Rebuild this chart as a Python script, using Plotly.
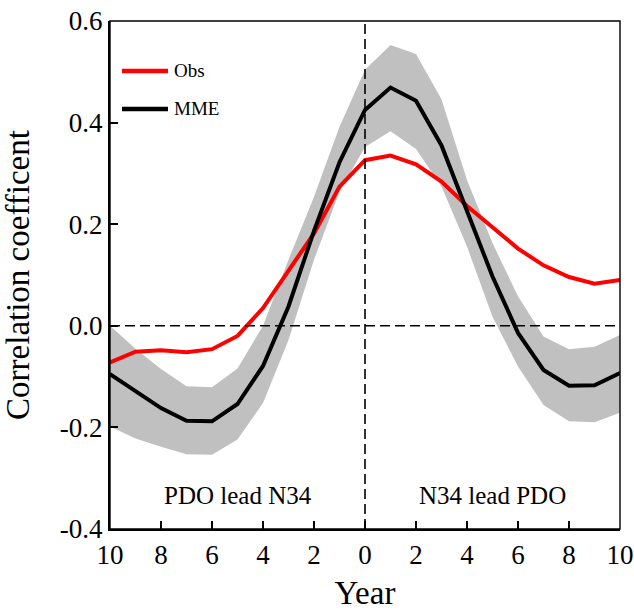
import plotly.graph_objects as go

years = list(range(-10, 11))
obs = [-0.072, -0.051, -0.048, -0.052, -0.046, -0.020, 0.035, 0.107, 0.182, 0.274, 0.326,
       0.335, 0.318, 0.284, 0.236, 0.194, 0.152, 0.119, 0.096, 0.083, 0.090]
mme = [-0.095, -0.128, -0.162, -0.187, -0.188, -0.154, -0.079, 0.038, 0.187, 0.322, 0.425,
       0.469, 0.443, 0.355, 0.228, 0.097, -0.014, -0.087, -0.118, -0.117, -0.093]
upper = [0.000, -0.045, -0.085, -0.119, -0.121, -0.084, 0.000, 0.130, 0.254, 0.392, 0.504,
         0.553, 0.535, 0.446, 0.287, 0.163, 0.058, -0.021, -0.046, -0.041, -0.018]
lower = [-0.198, -0.222, -0.238, -0.253, -0.254, -0.224, -0.152, -0.028, 0.130, 0.264, 0.352,
         0.383, 0.348, 0.274, 0.156, 0.018, -0.080, -0.156, -0.188, -0.190, -0.171]
xtick_vals = [-10, -8, -6, -4, -2, 0, 2, 4, 6, 8, 10]
xtick_text = [str(abs(v)) for v in xtick_vals]
ytick_vals = [-0.4, -0.2, 0.0, 0.2, 0.4, 0.6]
ytick_text = ["-0.4", "-0.2", "0.0", "0.2", "0.4", "0.6"]
series_names = ["Obs", "MME"]
series_colors = ["#ff0000", "#000000"]

FONT = "Liberation Serif"

fig = go.Figure()
fig.add_trace(go.Scatter(x=years, y=upper, mode="lines", line=dict(width=0, color="#c0c0c0"),
                         showlegend=False, hoverinfo="skip"))
fig.add_trace(go.Scatter(x=years, y=lower, mode="lines", line=dict(width=0, color="#c0c0c0"),
                         fill="tonexty", fillcolor="#c0c0c0", showlegend=False, hoverinfo="skip"))
for name, vals, col in zip(series_names, [obs, mme], series_colors):
    fig.add_trace(go.Scatter(x=years, y=vals, mode="lines", name=name,
                             line=dict(color=col, width=4), showlegend=False))

# manual legend (long line samples)
legend_y = [0.9016, 0.8268]
for name, col, ly in zip(series_names, series_colors, legend_y):
    fig.add_shape(type="line", xref="paper", yref="paper", x0=0.0235, x1=0.1137, y0=ly, y1=ly,
                  line=dict(color=col, width=4.5))
    fig.add_annotation(x=0.1215, y=ly, xref="paper", yref="paper", text=name, showarrow=False,
                       xanchor="left", yanchor="middle",
                       font=dict(family=FONT, size=19, color="black"))

# dashed reference lines
fig.add_shape(type="line", xref="x", yref="y", x0=-10, x1=10, y0=0, y1=0,
              line=dict(color="black", width=1.6, dash="10px,5px"))
fig.add_shape(type="line", xref="x", yref="y", x0=0, x1=0, y0=-0.4, y1=0.6,
              line=dict(color="black", width=1.6, dash="10px,5px"))
# top/right frame
fig.add_shape(type="rect", xref="paper", yref="paper", x0=0, x1=1, y0=0, y1=1,
              line=dict(color="black", width=1.4), layer="above")

fig.add_annotation(x=-5, y=-0.335, xref="x", yref="y", text="PDO lead N34", showarrow=False,
                   font=dict(family=FONT, size=25, color="black"))
fig.add_annotation(x=5, y=-0.335, xref="x", yref="y", text="N34 lead PDO", showarrow=False,
                   font=dict(family=FONT, size=25, color="black"))

fig.update_layout(
    width=634, height=611,
    margin=dict(l=110, r=14, t=21, b=82),
    paper_bgcolor="white", plot_bgcolor="white",
    font=dict(family=FONT, color="black"),
    showlegend=False,
    xaxis=dict(range=[-10, 10], tickvals=xtick_vals, ticktext=xtick_text, automargin=False,
               ticks="inside", ticklen=8, tickwidth=1.5, tickcolor="black",
               showline=True, linecolor="black", linewidth=2.2, showgrid=False, zeroline=False,
               tickfont=dict(family=FONT, size=27),
               title=dict(text="Year", font=dict(family=FONT, size=33), standoff=22)),
    yaxis=dict(range=[-0.4, 0.6], tickvals=ytick_vals, ticktext=ytick_text, automargin=False,
               ticks="inside", ticklen=8, tickwidth=1.5, tickcolor="black",
               showline=True, linecolor="black", linewidth=2.2, showgrid=False, zeroline=False,
               tickfont=dict(family=FONT, size=27),
               title=dict(text="Correlation coefficent", font=dict(family=FONT, size=33), standoff=20)),
)

fig.write_html("out.html")
